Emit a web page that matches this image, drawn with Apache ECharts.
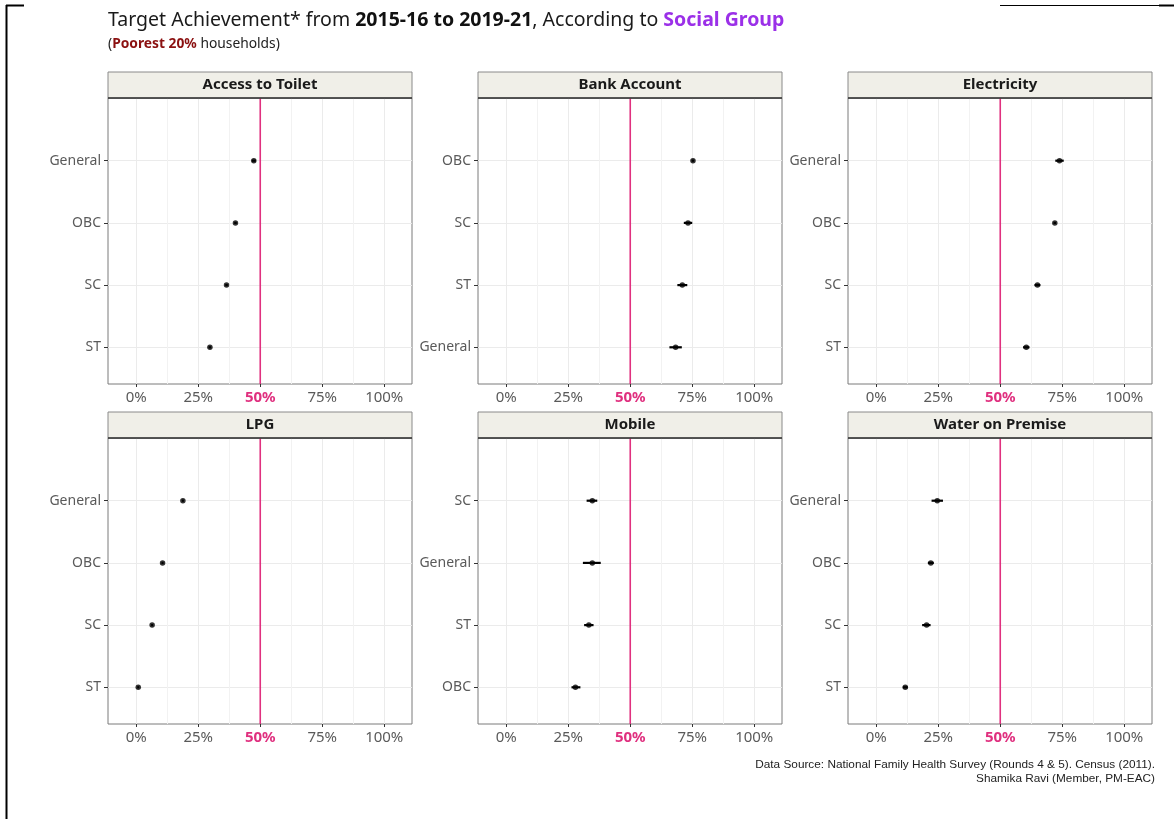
<!DOCTYPE html>
<html>
<head>
<meta charset="utf-8">
<script src="https://cdn.jsdelivr.net/npm/echarts@6/dist/echarts.min.js"></script>
<style>
  html, body { margin: 0; padding: 0; background: #fff; }
  #chart { width: 1174px; height: 819px; }
</style>
</head>
<body>
<div id="chart"></div>
<script>
// Facet titles, in panel order (row by row)
const panelTitles = ['Access to Toilet', 'Bank Account', 'Electricity', 'LPG', 'Mobile', 'Water on Premise'];

// Target achievement (%) by social group, with interval ends
const toiletGroups = ['General', 'OBC', 'SC', 'ST'];
const toiletValues = [47.4, 40.0, 36.4, 29.7];
const toiletLow = [46.6, 39.5, 35.9, 29.2];
const toiletHigh = [48.2, 40.5, 36.9, 30.2];

const bankGroups = ['OBC', 'SC', 'ST', 'General'];
const bankValues = [75.3, 73.3, 71.0, 68.3];
const bankLow = [74.8, 71.6, 69.0, 65.8];
const bankHigh = [75.8, 75.0, 73.0, 70.8];

const elecGroups = ['General', 'OBC', 'SC', 'ST'];
const elecValues = [73.9, 72.0, 65.0, 60.5];
const elecLow = [72.2, 71.5, 63.8, 59.2];
const elecHigh = [75.6, 72.5, 66.2, 61.8];

const lpgGroups = ['General', 'OBC', 'SC', 'ST'];
const lpgValues = [18.8, 10.6, 6.4, 0.8];
const lpgLow = [18.4, 10.2, 6.0, 0.4];
const lpgHigh = [19.2, 11.0, 6.8, 1.2];

const mobileGroups = ['SC', 'General', 'ST', 'OBC'];
const mobileValues = [34.7, 34.7, 33.3, 27.9];
const mobileLow = [32.4, 30.9, 31.4, 26.3];
const mobileHigh = [36.7, 38.1, 35.2, 29.9];

const waterGroups = ['General', 'OBC', 'SC', 'ST'];
const waterValues = [24.6, 22.0, 20.3, 11.7];
const waterLow = [22.3, 20.8, 18.5, 10.7];
const waterHigh = [26.9, 23.2, 21.9, 12.7];

// Axis ticks and the 50% target line
const xTicks = [0, 25, 50, 75, 100];
const xMinorTicks = [12.5, 37.5, 62.5, 87.5];
const targetValue = 50;

const panels = [
  { groups: toiletGroups, values: toiletValues, low: toiletLow, high: toiletHigh },
  { groups: bankGroups, values: bankValues, low: bankLow, high: bankHigh },
  { groups: elecGroups, values: elecValues, low: elecLow, high: elecHigh },
  { groups: lpgGroups, values: lpgValues, low: lpgLow, high: lpgHigh },
  { groups: mobileGroups, values: mobileValues, low: mobileLow, high: mobileHigh },
  { groups: waterGroups, values: waterValues, low: waterLow, high: waterHigh }
];

// Layout of the 3x2 facet grid
const colLeft = [108, 478, 848];
const rowTop = [98, 438];
const panelW = 304;
const panelH = 286;
const stripH = 26;
const catTopPad = 62.7;
const catBottomPad = 36.7;
const xMin = -11.4, xMax = 111.2;

const FONT = '"Noto Sans", "DejaVu Sans", sans-serif';
const PINK = '#e0307f';
const GRID_COLOR = '#ebebeb';

const grids = [], xAxes = [], yAxes = [], series = [], graphics = [];

panels.forEach((p, i) => {
  const L = colLeft[i % 3];
  const T = rowTop[Math.floor(i / 3)];

  // frame grid: border, vertical gridlines, x labels, target line
  const gA = grids.length;
  grids.push({ left: L, top: T, width: panelW, height: panelH, show: true,
    backgroundColor: '#fff', borderColor: '#7a7a7a', borderWidth: 1, containLabel: false });
  // grid for the groups: spans first to last category
  const gB = grids.length;
  grids.push({ left: L, top: T + catTopPad, width: panelW,
    height: panelH - catTopPad - catBottomPad, containLabel: false });

  const xA = xAxes.length;
  xAxes.push({
    type: 'value', gridIndex: gA, min: xMin, max: xMax, position: 'bottom',
    axisLine: { show: false, onZero: false },
    axisTick: { show: true, length: 3, customValues: xTicks, lineStyle: { color: '#333', width: 1 } },
    axisLabel: {
      customValues: xTicks, margin: 6, color: '#5a5a5a', fontFamily: FONT, fontSize: 15,
      formatter: v => (v === targetValue ? '{hl|' + v + '%}' : v + '%'),
      rich: { hl: { color: PINK, fontWeight: 'bold', fontFamily: FONT, fontSize: 15 } }
    },
    splitLine: { show: true, lineStyle: { color: GRID_COLOR, width: 1 } }
  });
  xAxes.push({
    type: 'value', gridIndex: gA, min: xMin, max: xMax, position: 'top',
    axisLine: { show: false, onZero: false },
    axisTick: { show: false, customValues: xMinorTicks },
    axisLabel: { show: false, customValues: xMinorTicks },
    splitLine: { show: true, lineStyle: { color: '#f2f2f2', width: 1 } }
  });
  const xB = xAxes.length;
  xAxes.push({
    type: 'value', gridIndex: gB, min: xMin, max: xMax, show: false,
    axisLine: { onZero: false },
    splitLine: { show: false }
  });

  const yA = yAxes.length;
  yAxes.push({ type: 'value', gridIndex: gA, min: 0, max: 1, show: false,
    axisLine: { onZero: false }, splitLine: { show: false } });
  const yB = yAxes.length;
  yAxes.push({
    type: 'category', gridIndex: gB, data: p.groups, inverse: true, boundaryGap: false,
    position: 'left',
    axisLine: { show: false, onZero: false },
    axisTick: { show: true, length: 4, lineStyle: { color: '#333', width: 1 } },
    axisLabel: { margin: 7, color: '#5a5a5a', fontFamily: FONT, fontSize: 14 },
    splitLine: { show: true, lineStyle: { color: GRID_COLOR, width: 1 } }
  });

  // target line at 50%
  series.push({
    type: 'line', xAxisIndex: xA, yAxisIndex: yA, silent: true, symbol: 'none',
    data: [[targetValue, 0], [targetValue, 1]],
    lineStyle: { color: PINK, width: 1.6 }, z: 3
  });

  // interval bars
  series.push({
    type: 'custom', xAxisIndex: xB, yAxisIndex: yB, silent: true, z: 4,
    encode: { x: [0, 1], y: 2 },
    data: p.low.map((lo, k) => [lo, p.high[k], p.groups[k]]),
    renderItem: (params, api) => {
      const c = api.value(2);
      const a = api.coord([api.value(0), c]);
      const b = api.coord([api.value(1), c]);
      return { type: 'line', shape: { x1: a[0], y1: a[1], x2: b[0], y2: b[1] },
        style: { stroke: '#000', lineWidth: 2.2 } };
    }
  });

  // point estimates
  series.push({
    type: 'scatter', xAxisIndex: xB, yAxisIndex: yB, silent: true, z: 5,
    symbol: 'circle', symbolSize: 5.5,
    itemStyle: { color: '#000' },
    data: p.values.map((v, k) => [v, p.groups[k]])
  });

  // facet strip
  graphics.push({
    type: 'rect', shape: { x: L, y: T - stripH, width: panelW, height: stripH },
    style: { fill: '#f0efe8', stroke: '#8a8a8a', lineWidth: 1 }, z: 10
  });
  graphics.push({
    type: 'line', shape: { x1: L, y1: T, x2: L + panelW, y2: T },
    style: { stroke: '#333', lineWidth: 1.5 }, z: 11
  });
  graphics.push({
    type: 'text', x: L + panelW / 2, y: T - stripH / 2, z: 12,
    style: { text: panelTitles[i], fill: '#1a1a1a', font: 'bold 15px ' + FONT,
      align: 'center', verticalAlign: 'middle' }
  });
});

// heading
graphics.push({
  type: 'text', x: 108, y: 20, z: 12,
  style: {
    text: '{a|Target Achievement* from }{b|2015-16 to 2019-21}{a|, According to }{c|Social Group}',
    verticalAlign: 'middle',
    rich: {
      a: { fontFamily: FONT, fontSize: 19.5, fill: '#1a1a1a' },
      b: { fontFamily: FONT, fontSize: 19.5, fontWeight: 'bold', fill: '#111' },
      c: { fontFamily: FONT, fontSize: 19.5, fontWeight: 'bold', fill: '#9b30e8' }
    }
  }
});
graphics.push({
  type: 'text', x: 108, y: 44, z: 12,
  style: {
    text: '{a|(}{b|Poorest 20%}{a| households)}',
    verticalAlign: 'middle',
    rich: {
      a: { fontFamily: FONT, fontSize: 13.8, fill: '#222' },
      b: { fontFamily: FONT, fontSize: 13.8, fontWeight: 'bold', fill: '#8b1010' }
    }
  }
});

// source note
graphics.push({
  type: 'text', x: 1155, y: 758, z: 12,
  style: {
    text: 'Data Source: National Family Health Survey (Rounds 4 & 5). Census (2011).\nShamika Ravi (Member, PM-EAC)',
    align: 'right', verticalAlign: 'top', lineHeight: 13.5,
    font: '11.8px "Liberation Sans", Arial, sans-serif', fill: '#222'
  }
});

// page frame
graphics.push({ type: 'line', shape: { x1: 6.5, y1: 5, x2: 6.5, y2: 819 }, style: { stroke: '#000', lineWidth: 2 }, z: 12 });
graphics.push({ type: 'line', shape: { x1: 6, y1: 5.5, x2: 24, y2: 5.5 }, style: { stroke: '#000', lineWidth: 2 }, z: 12 });
graphics.push({ type: 'line', shape: { x1: 1000, y1: 5.5, x2: 1160, y2: 5.5 }, style: { stroke: '#000', lineWidth: 1 }, z: 12 });
graphics.push({ type: 'line', shape: { x1: 1159, y1: 5.5, x2: 1174, y2: 5.5 }, style: { stroke: '#000', lineWidth: 2 }, z: 12 });

const chart = echarts.init(document.getElementById('chart'), null, { renderer: 'canvas' });
chart.setOption({
  backgroundColor: '#fff',
  animation: false,
  grid: grids,
  xAxis: xAxes,
  yAxis: yAxes,
  series: series,
  graphic: graphics
});
</script>
</body>
</html>
